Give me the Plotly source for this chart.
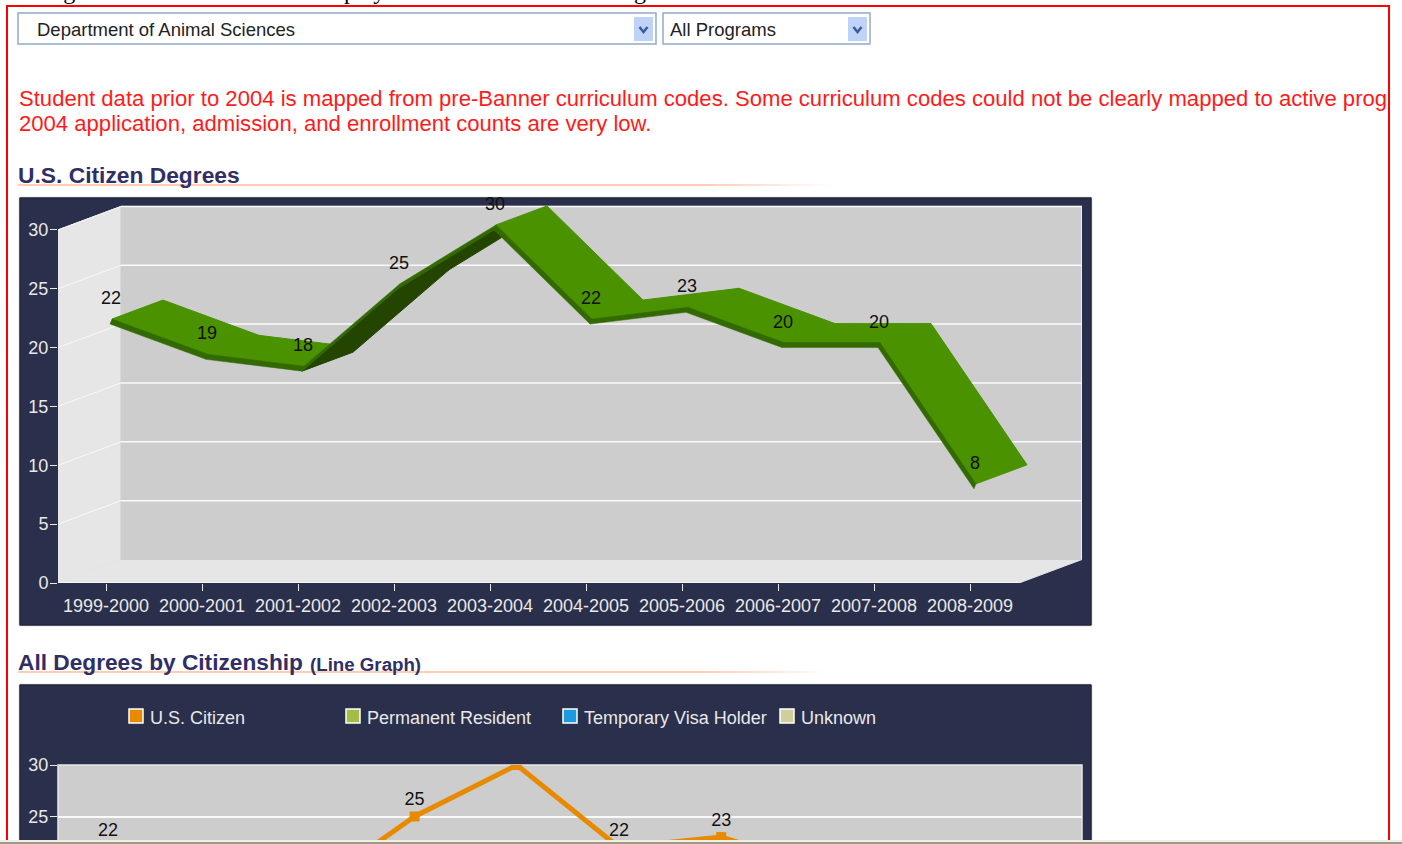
# -*- coding: utf-8 -*-
"""Degrees page: pseudo-3D ribbon of U.S. citizen degrees and a line graph by citizenship."""

import plotly.graph_objects as go

W, H = 1402, 844

YEARS = ['1999-2000', '2000-2001', '2001-2002', '2002-2003', '2003-2004',
         '2004-2005', '2005-2006', '2006-2007', '2007-2008', '2008-2009']
US_CITIZEN = [22, 19, 18, 25, 30, 22, 23, 20, 20, 8]
Y_TICKS = [0, 5, 10, 15, 20, 25, 30]
LEGEND_NAMES = ['U.S. Citizen', 'Permanent Resident', 'Temporary Visa Holder', 'Unknown']

NAVY = '#2A304B'
WALL = '#CDCDCD'
FLOOR = '#E6E6E6'
GRID = '#FAFAFA'
LEGEND_COLORS = ['#E88A00', '#A6BD45', '#1E9BE0', '#CFCF9B']
TEXT = 'Liberation Sans'

# pixels per unit of the two charts
X1, Y1 = 96.0, 11.77
X2, Y2 = 102.2, 10.3


def xp(px):
    return px / W


def yp(py):
    return 1 - py / H


shapes, notes = [], []


def box(x0, y0, x1, y1, fill, line=None, width=1, layer='below'):
    shapes.append(dict(type='rect', xref='paper', yref='paper', layer=layer,
                       x0=xp(x0), x1=xp(x1), y0=yp(y0), y1=yp(y1), fillcolor=fill,
                       line=dict(color=line or fill, width=width if line else 0)))


def label(x, y, text, size, color, anchor='left', bold=False, family=TEXT):
    notes.append(dict(xref='paper', yref='paper', x=xp(x - 1), y=yp(y), text=f'<b>{text}</b>' if bold else text,
                      showarrow=False, xanchor=anchor, yanchor='middle', borderpad=0,
                      font=dict(family=family, size=size, color=color)))


def underline(y):
    box(18, y - 1, 700, y + 1, '#FFCDB4')
    for i in range(16):
        g = 205 + i * 50 // 16
        b = 180 + i * 75 // 16
        box(700 + i * 8, y - 1, 708 + i * 8, y + 1, f'rgb(255,{g},{b})')


def dropdown(x0, x1, text, text_x):
    box(x0, 13, x1, 44, 'white', '#93AAC8', 1.5)
    box(x1 - 22, 17, x1 - 3, 41, '#BFD3F8')
    cx = x1 - 12.5
    shapes.append(dict(type='path', xref='paper', yref='paper', layer='below',
                       path=f'M {xp(cx - 4)} {yp(27)} L {xp(cx)} {yp(32)} L {xp(cx + 4)} {yp(27)}',
                       line=dict(color='#3E5C9A', width=2.5)))
    label(text_x, 29, text, 18.5, '#222222')


# page furniture
for x, word in [(18, 'Using'), (316, 'display'), (586, 'listing')]:
    label(x, -9, word, 24, '#000000', family='Liberation Serif')
box(7, 6, 1389, 850, 'white', '#FF0000', 2)
dropdown(18, 656, 'Department of Animal Sciences', 37)
dropdown(663, 870, 'All Programs', 670)
label(19, 98, 'Student data prior to 2004 is mapped from pre-Banner curriculum codes. '
              'Some curriculum codes could not be clearly mapped to active prog', 22.1, '#FF1A1A')
label(19, 124, '2004 application, admission, and enrollment counts are very low.', 22.1, '#FF1A1A')
label(18, 175, 'U.S. Citizen Degrees', 22.8, '#2F2F66', bold=True)
underline(185)
label(18, 662, 'All Degrees by Citizenship', 22.7, '#2F2F66', bold=True)
label(310, 664, '(Line Graph)', 18.7, '#2F2F66', bold=True)
underline(672)

# dark chart panels
box(19, 197, 1092, 626, NAVY, '#E2E2E2', 1)
box(20, 198, 1091, 625, NAVY, '#1C2033', 1)
box(19, 684, 1092, 850, NAVY, '#E2E2E2', 1)
box(20, 685, 1091, 850, NAVY, '#1C2033', 1)

# chart 1: walls and floor, in axis units
x_left = -0.5
x_end = x_left + 961 / X1
depth_x = 63 / X1
depth_y = 23.5 / Y1
x_back = x_left + depth_x
x_right = x_end + depth_x
y_top = 30


def poly(points, fill):
    path = 'M ' + ' L '.join(f'{px} {py}' for px, py in points) + ' Z'
    shapes.append(dict(type='path', xref='x', yref='y', layer='below', path=path,
                       fillcolor=fill, line=dict(color=fill, width=1)))


def seg(x0, y0, x1, y1, width=1.5):
    shapes.append(dict(type='line', xref='x', yref='y', layer='below', x0=x0, y0=y0, x1=x1, y1=y1,
                       line=dict(color=GRID, width=width)))


poly([(x_left, 0), (x_back, depth_y), (x_back, y_top + depth_y), (x_left, y_top)], FLOOR)
poly([(x_left, 0), (x_back, depth_y), (x_right, depth_y), (x_end, 0)], FLOOR)
poly([(x_back, depth_y), (x_right, depth_y), (x_right, y_top + depth_y), (x_back, y_top + depth_y)], WALL)
for v in Y_TICKS[1:]:
    seg(x_left, v, x_back, v + depth_y, 1)
    seg(x_back, v + depth_y, x_right, v + depth_y)
seg(x_right, depth_y, x_right, y_top + depth_y)
seg(x_left, 0, x_end, 0)

# chart 1: ribbon built from the values, faces painted left to right
shift = 4 / X1
lean = 2 / X1
thick = 5 / Y1
rib_x = 51 / X1
rib_y = 19 / Y1
GREEN, DARK, EDGE = '#4A9200', '#244500', '#336A00'

fig = go.Figure()


def face(px, py, color, width=1):
    fig.add_trace(go.Scatter(x=px, y=py, xaxis='x', yaxis='y', mode='lines', fill='toself', fillcolor=color,
                             line=dict(width=width, color=color), showlegend=False, hoverinfo='skip'))


for i in range(len(US_CITIZEN) - 1):
    a, b = US_CITIZEN[i], US_CITIZEN[i + 1]
    xa, xb = i + shift, i + 1 + shift
    if (b - a) * Y1 / X1 > 19 / 52:   # steeper than the ribbon's depth: underside shows
        face([xa, xb, xb + rib_x, xa + rib_x, xa], [a, b, b + rib_y, a + rib_y, a], DARK)
    else:
        face([xa + lean, xb + lean, xb + lean + rib_x, xa + lean + rib_x, xa + lean],
             [a + thick, b + thick, b + thick + rib_y, a + thick + rib_y, a + thick], GREEN)
edge_x, edge_y = [], []
for i in range(len(US_CITIZEN) - 1):
    a, b = US_CITIZEN[i], US_CITIZEN[i + 1]
    xa, xb = i + shift, i + 1 + shift
    edge_x += [xa, xb, xb + lean, xa + lean, xa, None]
    edge_y += [a, b, b + thick, a + thick, a, None]
face(edge_x, edge_y, EDGE, 0.5)

fig.add_trace(go.Scatter(x=[i + 5 / X1 for i in range(len(YEARS))], y=[v + 24.5 / Y1 for v in US_CITIZEN],
                         xaxis='x', yaxis='y', mode='text', text=[str(v) for v in US_CITIZEN], cliponaxis=False,
                         textfont=dict(family=TEXT, size=18, color='#111111'), showlegend=False, hoverinfo='skip'))

# chart 2: the bottom of the plot is cut off by the window, so the axis stops there
y2_low = 30 - 76 / Y2
box(58, 765, 1082, 850, WALL, '#E6E6E6', 1.5)
for i, name in enumerate(LEGEND_NAMES):
    x = 129 + 217 * i
    box(x, 709, x + 14, 723, LEGEND_COLORS[i], '#FFFFFF', 1.5)
    label(x + 21, 718, name, 18, '#E8E8E8')

fig.add_trace(go.Scatter(x=list(range(len(YEARS))), y=US_CITIZEN, xaxis='x2', yaxis='y2', mode='lines+markers',
                         line=dict(color=LEGEND_COLORS[0], width=5), marker=dict(symbol='square', size=10),
                         name=LEGEND_NAMES[0], showlegend=False, hoverinfo='skip'))
# only the labels that fall inside the visible part of the plot
shown = [i for i, v in enumerate(US_CITIZEN) if y2_low + 0.5 < v + 16 / Y2 < 30]
fig.add_trace(go.Scatter(x=shown, y=[US_CITIZEN[i] + 16 / Y2 for i in shown], xaxis='x2', yaxis='y2',
                         mode='text', text=[str(US_CITIZEN[i]) for i in shown],
                         textfont=dict(family=TEXT, size=18, color='#111111'), showlegend=False, hoverinfo='skip'))

# bottom edge of the browser window
box(0, 840, W, 842, '#F1EEDF', layer='above')
box(0, 842, W, 844, '#9C9C8C', layer='above')

axis_font = dict(family=TEXT, size=18, color='#E8E8E8')
fig.update_layout(
    width=W, height=H, autosize=False, margin=dict(l=0, r=0, t=0, b=0),
    paper_bgcolor='white', plot_bgcolor='rgba(0,0,0,0)', showlegend=False,
    shapes=shapes, annotations=notes, font=dict(family=TEXT),
    xaxis=dict(domain=[xp(58), xp(1082)], range=[x_left, x_left + 1024 / X1], anchor='y', automargin=False,
               tickvals=list(range(len(YEARS))), ticktext=YEARS, ticks='outside', ticklen=7, tickwidth=1,
               ticklabelstandoff=-1,
               tickcolor='#E8E8E8', tickfont=axis_font, showgrid=False, zeroline=False, showline=False),
    yaxis=dict(domain=[yp(583), yp(195)], range=[0, 388 / Y1], anchor='x', automargin=False,
               tickvals=Y_TICKS, ticks='outside', ticklen=7, tickwidth=1, ticklabelstandoff=-2,
               tickcolor='#E8E8E8', tickfont=axis_font, showgrid=False, zeroline=False, showline=False),
    xaxis2=dict(domain=[xp(58), xp(1082)], range=[-50 / X2, -50 / X2 + 1024 / X2], anchor='y2', automargin=False,
                showticklabels=False, ticks='', showgrid=False, zeroline=False, showline=False),
    yaxis2=dict(domain=[yp(841), yp(765)], range=[y2_low, 30], anchor='x2', automargin=False,
                tickvals=Y_TICKS, ticks='outside', ticklen=7, tickwidth=1, tickcolor='#E8E8E8', ticklabelstandoff=-2,
                tickfont=axis_font, showgrid=True, gridcolor=GRID, gridwidth=1.5, zeroline=False, showline=False),
)

fig.write_html('out.html', config=dict(displayModeBar=False), post_script="document.body.style.margin='0';")
